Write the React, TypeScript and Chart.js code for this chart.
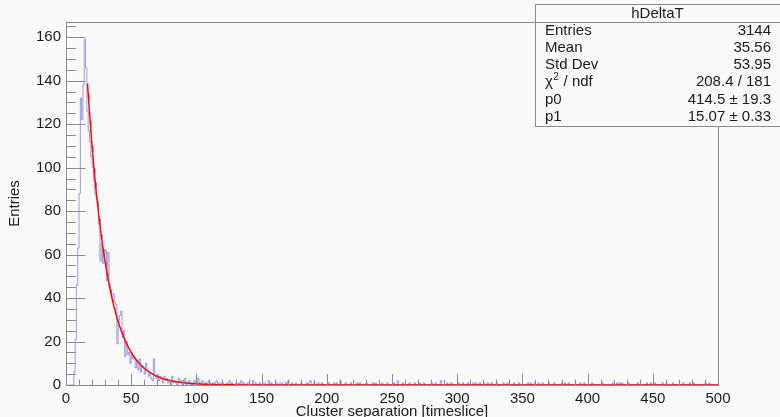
import React, { useEffect, useRef } from "react";
import { Chart, registerables } from "chart.js";
Chart.register(...registerables);

// Histogram bin contents, bins of width 1 starting at 0 (bins 0..102)
const binCounts: number[] = [
  0, 0, 0, 0, 0, 0, 0, 6, 21, 46,
  63, 88, 132, 122, 138, 159, 146, 126, 117, 112,
  105, 100, 94, 88, 86, 82, 74, 57, 65, 56,
  60, 62, 48, 61, 45, 44, 40, 42, 38, 37,
  19, 30, 32, 34, 22, 25, 13, 20, 14, 15,
  10, 14, 12, 13, 8, 11, 7, 12, 6, 9,
  8, 5, 10, 7, 4, 6, 3, 2, 12, 4,
  3, 5, 2, 4, 3, 1, 4, 2, 3, 1,
  2, 0, 4, 1, 2, 1, 0, 3, 1, 2,
  0, 1, 3, 0, 1, 2, 0, 1, 0, 2,
  1, 0, 3,
];
// Sparse tail (bins above 102)
const tailBins: number[] = [
  103, 105, 106, 108, 110, 111, 113, 115, 116, 118, 120, 121, 124, 126, 128, 131, 133, 135, 137, 140,
  141, 144, 146, 149, 152, 153, 156, 158, 162, 165, 166, 169, 171, 174, 177, 181, 185, 187, 188, 191,
  194, 197, 202, 206, 208, 211, 215, 219, 224, 226, 231, 236, 238, 243, 247, 252, 255, 259, 264, 268,
  272, 275, 281, 284, 288, 293, 296, 302, 305, 309, 313, 315, 318, 321, 324, 327, 331, 336, 339, 344,
  348, 355, 357, 360, 363, 366, 371, 375, 381, 383, 386, 395, 398, 404, 412, 420, 423, 425, 427, 432,
  439, 446, 449, 452, 458, 461, 466, 474, 479, 482, 491, 494,
];
const tailCounts: number[] = [
  1, 2, 1, 1, 2, 1, 1, 1, 2, 1, 1, 1, 1, 2, 1, 1, 1, 2, 1, 1,
  1, 2, 1, 1, 1, 1, 2, 1, 1, 1, 1, 1, 2, 1, 1, 1, 1, 1, 2, 1,
  1, 1, 1, 1, 1, 2, 1, 1, 1, 1, 1, 1, 1, 1, 1, 1, 2, 1, 1, 1,
  1, 1, 1, 1, 2, 1, 1, 1, 1, 1, 1, 1, 1, 1, 1, 1, 1, 1, 1, 1,
  1, 1, 1, 1, 1, 1, 1, 1, 1, 1, 1, 1, 1, 1, 1, 1, 1, 1, 1, 1,
  1, 1, 1, 1, 1, 1, 1, 1, 1, 1, 1, 1,
];
const nBins = 500;
const xMin = 0;
const xMax = 500;
const yMax = 167;

const yTickValues: number[] = [0, 20, 40, 60, 80, 100, 120, 140, 160];
const xTickValues: number[] = [0, 50, 100, 150, 200, 250, 300, 350, 400, 450, 500];
const xTickLabels: string[] = ["0", "50", "100", "150", "200", "250", "300", "350", "400", "450", "500"];
const yTickLabels: string[] = ["0", "20", "40", "60", "80", "100", "120", "140", "160"];

const xTitle = "Cluster separation [timeslice]";
const yTitle = "Entries";

const statsTitle = "hDeltaT";
const statLabels: string[] = ["Entries", "Mean", "Std Dev", "CHI2", "p0", "p1"];
const statValues: string[] = ["3144", "35.56", "53.95", "208.4 / 181", "414.5 \u00b1 19.3", "15.07 \u00b1 0.33"];

// Fit parameters: f(x) = p0 * exp(-x / p1)
const fitP0 = 414.5;
const fitP1 = 15.07;
const fitStart = 16.5;
const fitEnd = 500;

const FONT = '"Liberation Sans", Arial, Helvetica, sans-serif';

export default function App() {
  const ref = useRef<HTMLCanvasElement | null>(null);

  useEffect(() => {
    document.body.style.margin = "0";
    document.body.style.background = "#fafafa";
    const canvas = ref.current;
    if (!canvas) return;

    const counts: number[] = new Array(nBins).fill(0);
    binCounts.forEach((v, i) => (counts[i] = v));
    tailBins.forEach((b, i) => (counts[b] = tailCounts[i]));

    const histPts: { x: number; y: number }[] = counts.map((v, i) => ({ x: i, y: v }));
    histPts.push({ x: nBins, y: counts[nBins - 1] });

    const fitPts: { x: number; y: number }[] = [];
    for (let x = fitStart; x <= 130; x += 0.5) fitPts.push({ x, y: fitP0 * Math.exp(-x / fitP1) });
    for (let x = 135; x <= fitEnd; x += 5) fitPts.push({ x, y: fitP0 * Math.exp(-x / fitP1) });

    const rootPlugin = {
      id: "rootStyle",
      beforeDraw(chart: any) {
        const c = chart.ctx;
        c.save();
        c.fillStyle = "#fafafa";
        c.fillRect(0, 0, chart.width, chart.height);
        c.restore();
      },
      afterDraw(chart: any) {
        const c: CanvasRenderingContext2D = chart.ctx;
        const a = chart.chartArea;
        const xs = chart.scales.x;
        const ys = chart.scales.y;
        c.save();
        // frame
        c.strokeStyle = "#8c8c8c";
        c.lineWidth = 1;
        c.strokeRect(Math.round(a.left) + 0.5, Math.round(a.top) + 0.5, Math.round(a.right - a.left), Math.round(a.bottom - a.top));
        // y ticks
        c.beginPath();
        for (let v = 0; v <= yMax; v += 5) {
          const py = Math.round(ys.getPixelForValue(v)) + 0.5;
          const len = v % 20 === 0 ? 19.5 : 9.8;
          c.moveTo(a.left, py);
          c.lineTo(a.left + len, py);
        }
        // x ticks
        for (let v = xMin; v <= xMax; v += 10) {
          const px = Math.round(xs.getPixelForValue(v)) + 0.5;
          const len = v % 50 === 0 ? 10.9 : 5.4;
          c.moveTo(px, a.bottom);
          c.lineTo(px, a.bottom - len);
        }
        c.stroke();
        // labels
        c.fillStyle = "#1a1a1a";
        c.font = `15px ${FONT}`;
        c.textAlign = "right";
        c.textBaseline = "middle";
        yTickValues.forEach((v, i) => {
          c.fillText(yTickLabels[i], a.left - 5, ys.getPixelForValue(v));
        });
        c.textAlign = "center";
        c.textBaseline = "alphabetic";
        xTickValues.forEach((v, i) => {
          c.fillText(xTickLabels[i], xs.getPixelForValue(v), 403);
        });
        // axis titles
        c.fillText(xTitle, (a.left + a.right) / 2, 416);
        c.save();
        c.translate(19, (a.top + a.bottom) / 2);
        c.rotate(-Math.PI / 2);
        c.textAlign = "center";
        c.fillText(yTitle, 0, 0);
        c.restore();

        // stats box
        const bx = 535.5, by = 4.5, bw = 250, bh = 122;
        c.fillStyle = "#fafafa";
        c.fillRect(bx, by, bw, bh);
        c.strokeStyle = "#8c8c8c";
        c.strokeRect(bx, by, bw, bh);
        c.beginPath();
        c.moveTo(bx, 22.5);
        c.lineTo(bx + bw, 22.5);
        c.stroke();
        c.fillStyle = "#1a1a1a";
        c.font = `15px ${FONT}`;
        c.textAlign = "center";
        c.textBaseline = "middle";
        c.fillText(statsTitle, 657.5, 14);
        const rowY = [31, 48, 65, 82, 100, 117];
        statLabels.forEach((lab, i) => {
          const y = rowY[i];
          c.textAlign = "left";
          if (lab === "CHI2") {
            c.font = `15px ${FONT}`;
            c.fillText("\u03c7", 545, y);
            const w = c.measureText("\u03c7").width;
            c.font = `10px ${FONT}`;
            c.fillText("2", 545 + w + 0.5, y - 5);
            const w2 = c.measureText("2").width;
            c.font = `15px ${FONT}`;
            c.fillText(" / ndf", 545 + w + w2 + 1, y);
          } else {
            c.font = `15px ${FONT}`;
            c.fillText(lab, 545, y);
          }
          c.textAlign = "right";
          c.font = `15px ${FONT}`;
          c.fillText(statValues[i], 771, y);
        });
        c.restore();
      },
    };

    const chart = new Chart(canvas, {
      type: "line",
      data: {
        datasets: [
          {
            label: "hDeltaT",
            data: histPts,
            stepped: "after",
            borderColor: "rgba(80,80,205,0.55)",
            borderWidth: 1,
            pointRadius: 0,
            fill: false,
            order: 2,
          },
          {
            label: "fit",
            data: fitPts,
            borderColor: "rgb(255,0,0)",
            borderWidth: 1.4,
            pointRadius: 0,
            fill: false,
            tension: 0,
            order: 1,
          },
        ],
      },
      options: {
        animation: false,
        responsive: false,
        devicePixelRatio: 1,
        parsing: false,
        layout: { padding: { left: 66, right: 62, top: 22, bottom: 32 } },
        plugins: { legend: { display: false }, tooltip: { enabled: false }, title: { display: false } },
        scales: {
          x: { type: "linear", min: xMin, max: xMax, display: false },
          y: { type: "linear", min: 0, max: yMax, display: false },
        },
      },
      plugins: [rootPlugin],
    });
    return () => chart.destroy();
  }, []);

  return <canvas ref={ref} width={780} height={417} style={{ display: "block" }} />;
}
